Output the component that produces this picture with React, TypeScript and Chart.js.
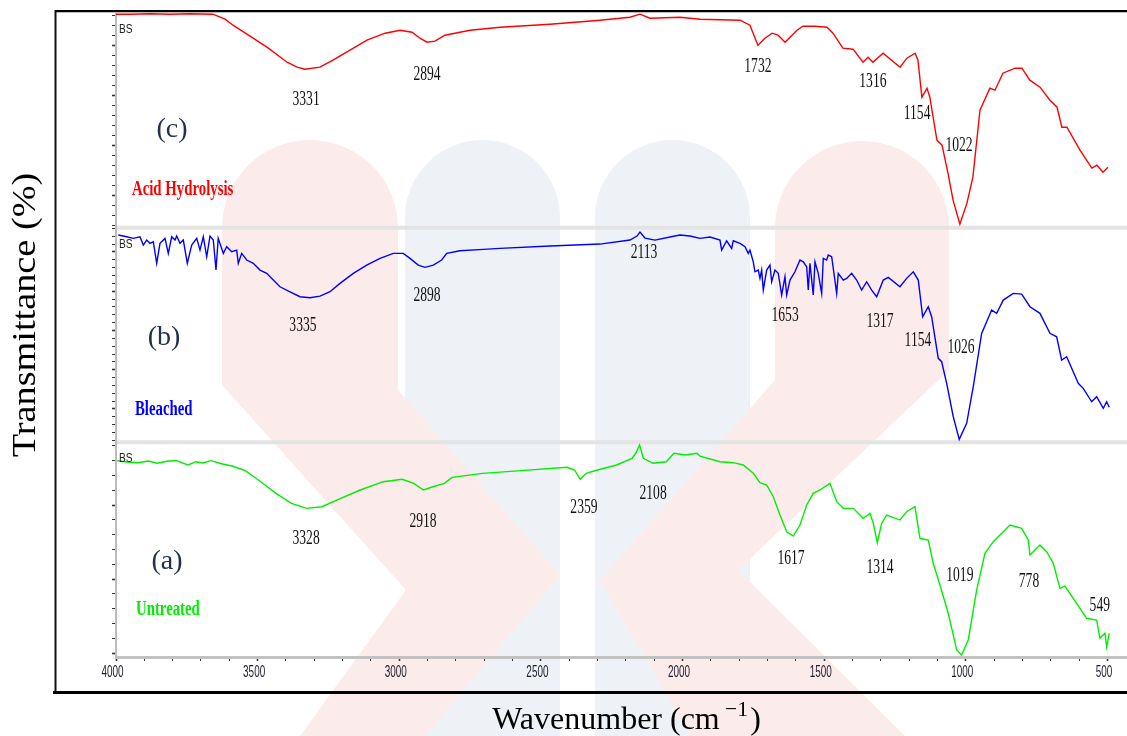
import { useEffect, useRef } from 'react';
import { Chart, registerables } from 'chart.js';

Chart.register(...registerables);

// ---------------- data (wavenumber in cm-1, transmittance in panel units) ----------------
const redWavenumber = [4000, 3950.6, 3880, 3809, 3739, 3658, 3615, 3587, 3527, 3467, 3396, 3361, 3333, 3280, 3234, 3174, 3114, 3050, 2997, 2955, 2927, 2902, 2874, 2839, 2750, 2644, 2468, 2291, 2186, 2150, 2115, 2009, 1938, 1797, 1762, 1734, 1709, 1684, 1663, 1638, 1596, 1575, 1533, 1490, 1469, 1434, 1398, 1363, 1345, 1328, 1292, 1232, 1208, 1179, 1169, 1155, 1137, 1127, 1102, 1084, 1063, 1045, 1021, 996, 975, 950, 915, 897, 869, 826, 802, 774, 738, 703, 678, 661, 643, 597, 555, 537, 516, 498];
const redTransmittance = [96.3, 96.3, 96.4, 96.3, 96.4, 96.3, 95.3, 94.1, 91.9, 89.7, 86.7, 85.7, 85.3, 85.7, 87.1, 89.1, 91.1, 92.5, 93.1, 92.7, 91.5, 90.7, 90.9, 92.1, 93.1, 93.7, 94.3, 95.1, 95.7, 96.3, 95.5, 95.7, 95.3, 95.1, 94.1, 90.1, 91.5, 92.5, 92.1, 90.7, 93.1, 93.9, 93.9, 93.7, 92.5, 89.5, 89.3, 86.7, 87.7, 86.7, 88.5, 85.7, 87.5, 88.5, 87.1, 79.7, 81.5, 79.7, 71.1, 70.1, 64.5, 59.1, 54.3, 58.5, 63.7, 77.1, 81.5, 81.1, 84.5, 85.5, 85.5, 83.1, 81.7, 79.1, 77.7, 73.7, 73.7, 69.1, 65.5, 66.1, 64.7, 65.7];

const blueWavenumber = [3991.9, 3962.2, 3938.9, 3915.3, 3903.6, 3891.6, 3880.0, 3868.3, 3856.3, 3844.7, 3827.0, 3815.4, 3803.4, 3791.7, 3785.7, 3774.1, 3762.4, 3748.3, 3732.8, 3715.1, 3703.5, 3691.8, 3679.8, 3668.2, 3656.5, 3647.0, 3639.2, 3621.2, 3609.2, 3591.6, 3573.9, 3568.3, 3556.3, 3538.6, 3515.3, 3491.7, 3468.0, 3444.7, 3421.1, 3385.8, 3350.5, 3315.2, 3279.9, 3244.6, 3209.3, 3162.3, 3115.0, 3068.1, 3021.1, 2985.8, 2962.2, 2932.9, 2909.2, 2879.9, 2850.3, 2832.6, 2785.7, 2703.4, 2644.5, 2468.0, 2291.5, 2185.6, 2160.9, 2150.3, 2132.6, 2097.3, 2044.4, 2009.1, 1973.8, 1938.5, 1903.2, 1867.9, 1861.9, 1844.3, 1826.6, 1820.9, 1797.3, 1779.6, 1768.0, 1762.0, 1750.4, 1744.3, 1732.7, 1726.7, 1720.7, 1715.0, 1703.0, 1691.4, 1685.4, 1673.7, 1662.1, 1650.1, 1638.4, 1632.4, 1620.8, 1603.1, 1585.5, 1573.8, 1561.8, 1556.2, 1550.2, 1538.5, 1532.5, 1520.9, 1508.9, 1503.2, 1491.3, 1485.6, 1473.6, 1467.9, 1455.9, 1450.3, 1432.6, 1420.6, 1403.0, 1385.4, 1367.7, 1350.0, 1332.4, 1314.7, 1291.4, 1273.8, 1232.5, 1208.8, 1185.5, 1167.8, 1152.3, 1132.6, 1120.6, 1097.3, 1085.3, 1067.6, 1044.3, 1023.2, 997.0, 973.7, 944.1, 908.8, 891.1, 867.8, 832.6, 802.8, 773.6, 738.3, 703.0, 679.3, 661.6, 644.0, 603.0, 585.5, 555.6, 538.1, 514.8, 502.8, 493.6];
const blueTransmittance = [94.32, 93.88, 93.47, 93.88, 91.77, 93.04, 92.20, 92.61, 87.11, 92.20, 93.47, 89.65, 93.88, 93.04, 94.06, 92.20, 93.04, 87.11, 91.77, 93.47, 90.49, 93.88, 88.79, 94.06, 93.04, 85.40, 93.47, 89.65, 91.33, 90.06, 90.49, 87.11, 89.65, 87.95, 87.11, 85.40, 84.56, 82.85, 81.14, 79.87, 78.60, 78.34, 78.77, 79.87, 82.01, 84.56, 86.67, 88.38, 89.65, 89.65, 88.38, 86.67, 86.09, 86.67, 87.95, 89.65, 90.32, 90.67, 90.93, 91.51, 92.02, 93.04, 94.06, 95.08, 93.55, 93.04, 93.81, 94.32, 94.06, 93.47, 93.81, 93.04, 90.49, 92.86, 90.93, 92.86, 92.20, 91.33, 89.65, 90.49, 87.51, 84.96, 85.40, 83.28, 85.40, 80.30, 85.40, 86.67, 82.42, 85.40, 84.56, 79.03, 83.69, 79.03, 82.85, 84.96, 87.95, 87.51, 86.24, 80.30, 87.11, 79.03, 87.51, 84.56, 79.46, 88.38, 87.95, 89.22, 88.79, 85.83, 79.46, 84.56, 82.85, 83.28, 84.56, 82.85, 80.30, 82.42, 80.30, 78.60, 82.85, 83.54, 81.14, 83.28, 84.96, 82.85, 73.50, 76.05, 73.50, 62.90, 62.04, 56.53, 48.02, 42.26, 46.34, 55.67, 69.27, 75.21, 74.37, 77.75, 79.46, 79.28, 76.05, 74.37, 69.27, 68.40, 62.47, 63.31, 56.53, 55.26, 51.84, 53.12, 50.16, 51.84, 50.42];

const greenWavenumber = [3995.8, 3961.5, 3921.3, 3887.0, 3853.9, 3816.4, 3786.4, 3745.8, 3718.7, 3692.9, 3664.7, 3624.1, 3590.5, 3543.2, 3489.2, 3435.2, 3380.8, 3326.8, 3272.8, 3218.8, 3137.9, 3056.8, 2989.4, 2948.8, 2914.9, 2881.0, 2840.8, 2813.6, 2705.6, 2570.4, 2408.4, 2381.2, 2361.0, 2340.5, 2300.0, 2232.5, 2178.5, 2165.1, 2151.7, 2138.3, 2104.4, 2057.1, 2030.3, 1989.7, 1949.1, 1938.5, 1867.9, 1820.9, 1785.6, 1750.4, 1726.7, 1703.0, 1679.7, 1656.1, 1632.4, 1609.1, 1585.5, 1561.8, 1538.5, 1514.9, 1479.6, 1455.9, 1432.6, 1397.3, 1362.0, 1338.4, 1326.7, 1312.6, 1297.1, 1279.4, 1232.5, 1208.8, 1179.5, 1161.9, 1132.6, 1115.0, 1091.3, 1062.0, 1032.3, 1014.7, 991.4, 961.7, 932.4, 903.1, 867.8, 844.2, 802.8, 779.5, 773.6, 761.9, 738.3, 714.6, 691.3, 667.6, 650.0, 608.7, 573.4, 538.1, 526.5, 508.8, 502.8, 493.6];
const greenTransmittance = [95.99, 95.81, 95.72, 95.95, 95.64, 95.95, 95.99, 95.41, 95.85, 95.68, 95.99, 95.54, 95.27, 94.64, 93.15, 91.58, 90.23, 89.55, 89.77, 90.68, 92.03, 93.15, 93.47, 92.93, 92.03, 92.47, 92.93, 93.74, 94.28, 94.64, 95.10, 94.73, 93.47, 94.28, 94.73, 95.41, 96.31, 96.99, 98.11, 96.31, 95.64, 95.85, 96.99, 96.76, 96.99, 96.6, 95.85, 95.72, 95.41, 94.28, 93.01, 92.70, 91.12, 88.65, 86.39, 85.81, 87.30, 90.00, 91.58, 92.03, 92.93, 90.45, 89.55, 89.55, 88.20, 88.88, 87.53, 84.91, 87.53, 88.65, 87.97, 89.10, 89.77, 85.50, 85.27, 82.12, 79.19, 75.37, 70.41, 69.73, 71.76, 78.51, 83.47, 85.04, 86.39, 87.30, 86.85, 85.27, 83.24, 83.69, 84.60, 83.69, 82.12, 78.74, 79.05, 76.72, 74.69, 74.46, 71.99, 72.66, 70.85, 72.66];

// peak annotations: text, wavenumber position, panel value position
const redPeakText = ['3331', '2894', '1732', '1316', '1154', '1022'];
const redPeakX = [3329, 2902, 1734, 1328, 1172, 1024];
const redPeakY = [79.1, 84.1, 85.7, 82.7, 76.3, 69.9];

const bluePeakText = ['2113', '3335', '2898', '1653', '1317', '1154', '1026'];
const bluePeakX = [2136, 3340, 2902, 1638, 1303, 1169, 1017];
const bluePeakY = [89.7, 71.1, 78.8, 73.7, 72.2, 67.3, 65.5];

const greenPeakText = ['3328', '2918', '2359', '2108', '1617', '1314', '1019', '778', '549'];
const greenPeakX = [3329, 2916, 2348, 2104, 1617, 1303, 1021, 777, 527];
const greenPeakY = [85.5, 87.8, 89.6, 91.5, 82.8, 81.5, 80.4, 79.6, 76.4];

const xTickLabels = [4000, 3500, 3000, 2500, 2000, 1500, 1000, 500];

const panelNames = ['Acid Hydrolysis', 'Bleached', 'Untreated'];
const panelLetters = ['(c)', '(b)', '(a)'];

// ---------------- helpers ----------------
const SERIF = '"Liberation Serif", "Times New Roman", serif';
const SANS = '"Liberation Sans", Arial, sans-serif';

function toPoints(xs: number[], ys: number[]) {
  return xs.map((x, i) => ({ x, y: ys[i] }));
}

function pill(ctx: CanvasRenderingContext2D, x1: number, x2: number, top: number, bottom: number) {
  const r = (x2 - x1) / 2;
  ctx.beginPath();
  ctx.moveTo(x1, bottom);
  ctx.lineTo(x1, top + r);
  ctx.arc(x1 + r, top + r, r, Math.PI, 0);
  ctx.lineTo(x2, bottom);
  ctx.closePath();
  ctx.fill();
}

// faint background logo; red bands are drawn over the blue bands
function drawWatermark(ctx: CanvasRenderingContext2D, w: number, h: number) {
  ctx.save();
  ctx.fillStyle = '#ffffff';
  ctx.fillRect(0, 0, w, h);
  ctx.fillStyle = '#eef2f7';
  pill(ctx, 405, 560, 140, 736);
  pill(ctx, 595, 750, 140, 736);
  ctx.fillStyle = '#fcebeb';
  ctx.beginPath();
  ctx.moveTo(222, 228);
  ctx.arc(310, 228, 88, Math.PI, 0);
  ctx.lineTo(398, 390);
  ctx.lineTo(560, 575);
  ctx.lineTo(425, 736);
  ctx.lineTo(300, 736);
  ctx.lineTo(406, 590);
  ctx.lineTo(222, 385);
  ctx.closePath();
  ctx.fill();
  ctx.beginPath();
  ctx.moveTo(775, 228);
  ctx.arc(862, 228, 87, Math.PI, 0);
  ctx.lineTo(949, 370);
  ctx.lineTo(738, 570);
  ctx.lineTo(905, 736);
  ctx.lineTo(690, 736);
  ctx.lineTo(600, 580);
  ctx.lineTo(775, 380);
  ctx.closePath();
  ctx.fill();
  ctx.restore();
}

function condensedText(ctx: CanvasRenderingContext2D, text: string, x: number, y: number, sx: number) {
  ctx.save();
  ctx.translate(x, y);
  ctx.scale(sx, 1);
  ctx.fillText(text, 0, 0);
  ctx.restore();
}

const decorations = {
  id: 'decorations',
  beforeDraw(chart: any) {
    drawWatermark(chart.ctx, chart.width, chart.height);
  },
  beforeDatasetsDraw(chart: any) {
    const ctx: CanvasRenderingContext2D = chart.ctx;
    const a = chart.chartArea;
    ctx.save();
    ctx.strokeStyle = '#e3e3e3';
    ctx.lineWidth = 4;
    [chart.scales.yC.bottom, chart.scales.yB.bottom].forEach((y: number) => {
      ctx.beginPath();
      ctx.moveTo(a.left + 1, y);
      ctx.lineTo(a.right, y);
      ctx.stroke();
    });
    ctx.restore();
  },
  afterDraw(chart: any) {
    const ctx: CanvasRenderingContext2D = chart.ctx;
    const a = chart.chartArea;
    const xs = chart.scales.x;
    const panels = [chart.scales.yC, chart.scales.yB, chart.scales.yA];
    ctx.save();

    // outer frame
    ctx.strokeStyle = '#000';
    ctx.lineWidth = 2;
    ctx.beginPath();
    ctx.moveTo(a.left - 61, a.top - 2);
    ctx.lineTo(chart.width, a.top - 2);
    ctx.stroke();
    ctx.strokeStyle = '#bdbdbd';
    ctx.lineWidth = 1;
    ctx.beginPath();
    ctx.moveTo(a.left - 60, a.top - 0.5);
    ctx.lineTo(chart.width, a.top - 0.5);
    ctx.stroke();
    ctx.strokeStyle = '#111';
    ctx.lineWidth = 2;
    ctx.beginPath();
    ctx.moveTo(a.left - 60.5, a.top - 3);
    ctx.lineTo(a.left - 60.5, a.bottom + 36);
    ctx.stroke();
    ctx.strokeStyle = '#000';
    ctx.lineWidth = 3;
    ctx.beginPath();
    ctx.moveTo(a.left - 63, a.bottom + 35.5);
    ctx.lineTo(chart.width, a.bottom + 35.5);
    ctx.stroke();

    // x tick labels
    ctx.fillStyle = '#1c1c2c';
    ctx.font = '16px ' + SANS;
    ctx.textAlign = 'center';
    ctx.textBaseline = 'middle';
    xTickLabels.forEach((v) => {
      condensedText(ctx, String(v), xs.getPixelForValue(v) - 3.5, a.bottom + 16, 0.62);
    });

    // BS markers
    ctx.fillStyle = '#222';
    ctx.font = '12px ' + SANS;
    ctx.textAlign = 'left';
    ctx.textBaseline = 'alphabetic';
    panels.forEach((p: any) => condensedText(ctx, 'BS', a.left + 3, p.top + 20, 0.85));

    // panel letters
    ctx.fillStyle = '#22304f';
    ctx.font = '28px ' + SERIF;
    ctx.textAlign = 'center';
    ctx.textBaseline = 'middle';
    const letterOffsets = [117, 110, 119];
    const letterX = [56, 48, 51];
    panels.forEach((p: any, i: number) => {
      ctx.fillText(panelLetters[i], a.left + letterX[i], p.top + letterOffsets[i]);
    });

    // panel names
    const nameColors = ['#ff0000', '#0000ff', '#00ee00'];
    const nameBase = [182, 187, 173];
    const nameX = [16, 19, 20];
    ctx.font = 'bold 20px ' + SERIF;
    ctx.textAlign = 'left';
    ctx.textBaseline = 'alphabetic';
    panels.forEach((p: any, i: number) => {
      ctx.fillStyle = nameColors[i];
      condensedText(ctx, panelNames[i], a.left + nameX[i], p.top + nameBase[i], 0.74);
    });

    // peak labels
    ctx.fillStyle = '#111';
    ctx.font = '20px ' + SERIF;
    ctx.textAlign = 'center';
    ctx.textBaseline = 'middle';
    const groups = [
      [redPeakText, redPeakX, redPeakY, chart.scales.yC],
      [bluePeakText, bluePeakX, bluePeakY, chart.scales.yB],
      [greenPeakText, greenPeakX, greenPeakY, chart.scales.yA],
    ] as any[];
    groups.forEach(([texts, px, py, ys]) => {
      texts.forEach((t: string, i: number) => {
        condensedText(ctx, t, xs.getPixelForValue(px[i]), ys.getPixelForValue(py[i]), 0.68);
      });
    });

    // axis titles
    ctx.fillStyle = '#000';
    const cx = (a.left + a.right) / 2 + 5;
    const base = a.bottom + 72;
    ctx.textAlign = 'left';
    ctx.textBaseline = 'alphabetic';
    ctx.font = '32px ' + SERIF;
    const main = 'Wavenumber (cm';
    const wMain = ctx.measureText(main).width;
    const wEnd = ctx.measureText(')').width;
    ctx.font = '22px ' + SERIF;
    const wSup = ctx.measureText('\u22121').width;
    const total = wMain + 5 + wSup + 2 + wEnd;
    const x0 = cx - total / 2;
    ctx.font = '32px ' + SERIF;
    ctx.fillText(main, x0, base);
    ctx.fillText(')', x0 + wMain + 5 + wSup + 2, base);
    ctx.font = '22px ' + SERIF;
    ctx.fillText('\u22121', x0 + wMain + 5, base - 13);

    ctx.save();
    ctx.translate(a.left - 81, (a.top + a.bottom) / 2 - 20);
    ctx.rotate(-Math.PI / 2);
    ctx.scale(1.16, 1);
    ctx.font = '33px ' + SERIF;
    ctx.textAlign = 'center';
    ctx.fillText('Transmittance (%)', 0, 0);
    ctx.restore();

    ctx.restore();
  },
};

function panelAxis(min: number, max: number, weight: number) {
  return {
    type: 'linear',
    position: 'left',
    stack: 'panels',
    stackWeight: 1,
    weight,
    min,
    max,
    grid: {
      drawOnChartArea: false,
      drawTicks: true,
      tickLength: 4,
      tickColor: '#333',
      tickWidth: (c: any) => (c.tick && c.tick.value % 10 === 0 ? 1.6 : 1),
    },
    border: { display: true, color: '#bcbcbc', width: 2 },
    ticks: { display: false },
    afterBuildTicks: (s: any) => {
      const t = [];
      for (let v = Math.ceil(min / 2) * 2; v <= max; v += 2) t.push({ value: v });
      s.ticks = t;
    },
    afterFit: (s: any) => {
      s.width = 5;
    },
  };
}

export default function App() {
  const ref = useRef<HTMLCanvasElement>(null);
  useEffect(() => {
    if (!ref.current) return;
    const line = (data: any, color: string, axis: string) => ({
      data,
      borderColor: color,
      borderWidth: 1.4,
      pointRadius: 0,
      tension: 0,
      fill: false,
      yAxisID: axis,
    });
    const chart = new Chart(ref.current, {
      type: 'line',
      data: {
        datasets: [
          line(toPoints(redWavenumber, redTransmittance), '#ff0000', 'yC'),
          line(toPoints(blueWavenumber, blueTransmittance), '#0000ff', 'yB'),
          line(toPoints(greenWavenumber, greenTransmittance), '#00ee00', 'yA'),
        ],
      },
      options: {
        animation: false,
        responsive: false,
        maintainAspectRatio: false,
        parsing: false as any,
        layout: { padding: { left: 111, right: 0, top: 13, bottom: 49 } },
        plugins: { legend: { display: false }, tooltip: { enabled: false } },
        scales: {
          x: {
            type: 'linear',
            reverse: true,
            min: 431,
            max: 4000,
            position: 'bottom',
            grid: {
              drawOnChartArea: false,
              tickLength: 4,
              tickColor: '#333',
              tickWidth: (c: any) => (c.tick && c.tick.value % 500 === 0 ? 1.6 : 1),
            },
            border: { display: true, color: '#c2c2c2', width: 3 },
            ticks: { display: false },
            afterBuildTicks: (s: any) => {
              const t = [];
              for (let v = 500; v <= 4000; v += 100) t.push({ value: v });
              s.ticks = t;
            },
            afterFit: (s: any) => {
              s.height = 30;
            },
          },
          yA: panelAxis(69.46, 98.47, 1),
          yB: panelAxis(41.5, 96.2, 2),
          yC: panelAxis(53.6, 96.54, 3),
        } as any,
      },
      plugins: [decorations],
    } as any);
    return () => chart.destroy();
  }, []);
  return (
    <div style={{ position: 'absolute', left: 0, top: 0, width: 1127, height: 736, background: '#fff' }}>
      <canvas ref={ref} width={1127} height={736} style={{ display: 'block', width: 1127, height: 736 }} />
    </div>
  );
}
